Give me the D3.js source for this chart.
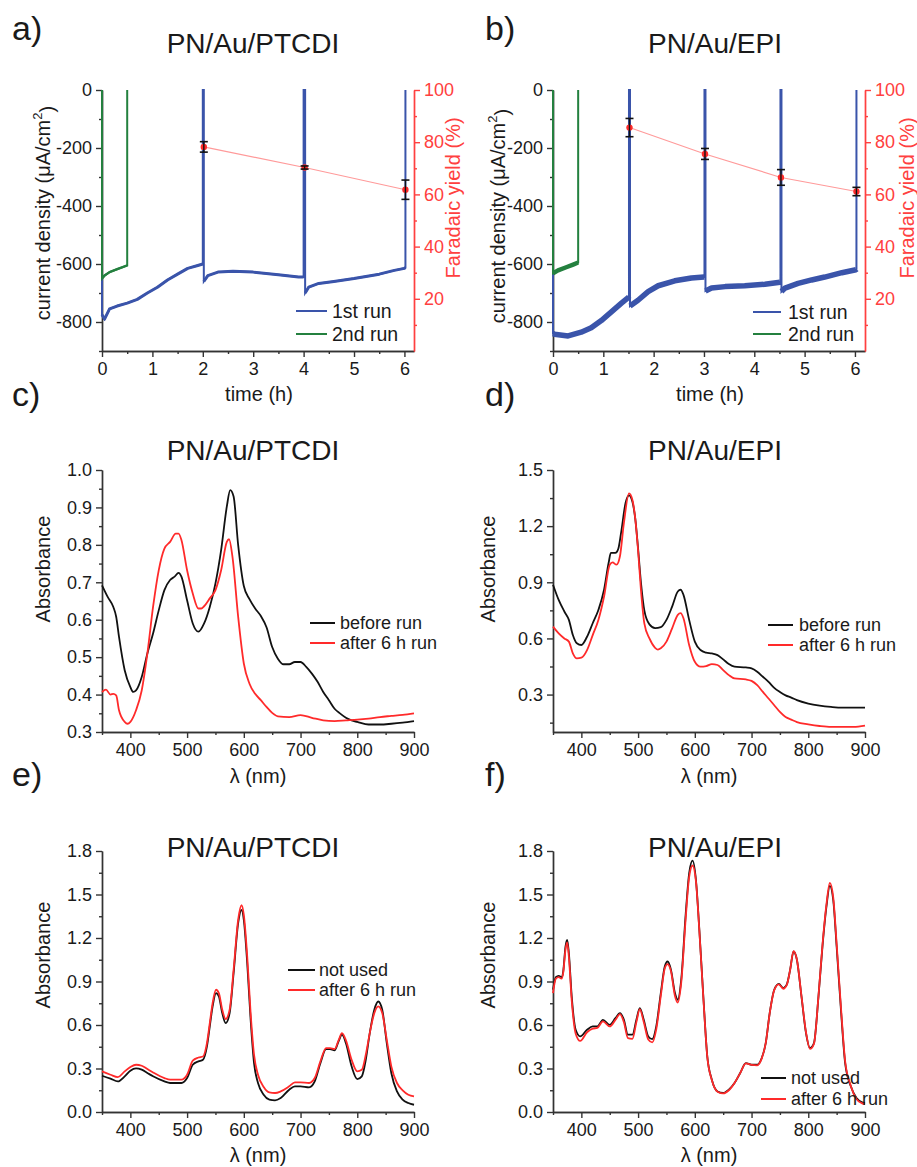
<!DOCTYPE html>
<html>
<head>
<meta charset="utf-8">
<script src="https://cdn.jsdelivr.net/npm/d3@7"></script>
<style>
  body { margin: 0; background: #fff; }
  svg text { font-family: "Liberation Sans", Arial, Helvetica, sans-serif; }
</style>
</head>
<body>
<svg id="fig" width="917" height="1167"></svg>
<script>
// ---- a) PN/Au/PTCDI chronoamperometry ----
const timeA1 = [0,0,0.05,0.15,0.3,0.5,0.7,0.9,1.1,1.3,1.5,1.7,1.9,2.0,2.0,2.02,2.02,2.1,2.3,2.6,3.0,3.5,3.9,4.0,4.0,4.03,4.03,4.1,4.3,4.6,5.0,5.5,5.8,6.0,6.02,6.02];
const jA1 = [0,-775,-790,-755,-745,-735,-722,-700,-680,-655,-635,-615,-605,-600,0,0,-660,-640,-628,-625,-628,-637,-645,-645,0,0,-700,-680,-667,-660,-650,-635,-622,-615,-612,0];
const timeA2 = [0,0,0.05,0.15,0.3,0.45,0.5,0.5];
const jA2 = [0,-650,-640,-628,-618,-608,-605,0];
const fyTimeA = [2.02, 4.02, 6.02];
const fyA = [78.2, 70.3, 61.8];
const fyErrA = [2.0, 0.6, 3.7];

// ---- b) PN/Au/EPI chronoamperometry ----
const timeB1 = [0,0,0.03,0.3,0.56,0.76,0.96,1.16,1.36,1.5,1.51,1.51,1.53,1.53,1.69,1.89,2.09,2.42,2.75,3.0,3.01,3.01,3.03,3.03,3.15,3.42,3.81,4.21,4.51,4.52,4.52,4.54,4.54,4.61,4.87,5.14,5.4,5.74,6.02,6.03,6.03];
const jB1 = [0,-840,-842,-848,-835,-820,-795,-765,-735,-715,-712,0,0,-745,-725,-695,-675,-658,-648,-645,-645,0,0,-693,-683,-678,-675,-670,-663,-662,0,0,-695,-683,-667,-655,-645,-630,-620,-618,0];
const timeB2 = [0,0,0.1,0.25,0.4,0.5,0.5];
const jB2 = [0,-632,-622,-612,-602,-595,0];
const fyTimeB = [1.52, 3.02, 4.53, 6.03];
const fyB = [85.6, 75.5, 66.5, 61.1];
const fyErrB = [3.5, 2.1, 3.0, 1.6];

// ---- c) PTCDI absorbance before / after ----
const wlBeforeC = [350,360,370,375,380,390,400,405,410,420,430,440,450,460,470,478,485,490,500,510,520,530,540,550,560,570,576,582,590,600,610,620,630,640,650,660,670,680,690,700,710,720,730,740,750,760,770,780,790,800,820,840,860,880,900];
const absBeforeC = [0.692,0.661,0.634,0.608,0.554,0.465,0.42,0.407,0.411,0.447,0.51,0.563,0.625,0.679,0.706,0.715,0.725,0.715,0.652,0.59,0.568,0.59,0.634,0.697,0.786,0.902,0.946,0.929,0.80,0.69,0.655,0.63,0.61,0.58,0.527,0.496,0.481,0.481,0.487,0.487,0.474,0.456,0.434,0.407,0.385,0.362,0.349,0.338,0.331,0.327,0.320,0.320,0.322,0.325,0.329];
const wlAfterC = [350,357,365,370,375,380,390,395,400,410,420,430,440,450,460,470,480,485,490,500,510,520,525,530,540,550,560,570,574,580,590,600,610,620,630,640,650,660,680,700,720,740,760,780,800,820,840,860,880,900];
const absAfterC = [0.407,0.413,0.40,0.402,0.398,0.358,0.327,0.322,0.327,0.358,0.411,0.51,0.634,0.732,0.79,0.808,0.83,0.83,0.813,0.732,0.67,0.63,0.63,0.636,0.657,0.679,0.732,0.808,0.815,0.768,0.608,0.483,0.429,0.402,0.385,0.367,0.351,0.342,0.34,0.345,0.338,0.331,0.329,0.331,0.333,0.336,0.34,0.343,0.346,0.35];

// ---- d) EPI absorbance before / after ----
const wlBeforeD = [350,360,370,378,385,392,400,410,420,430,440,448,452,460,465,470,478,484,490,495,500,505,511,520,530,540,550,560,570,575,580,590,600,610,620,630,640,650,660,670,690,700,710,720,730,740,750,760,770,780,800,820,840,860,900];
const absBeforeD = [0.887,0.806,0.744,0.699,0.618,0.574,0.565,0.609,0.681,0.752,0.86,1.003,1.057,1.057,1.078,1.164,1.325,1.364,1.33,1.24,1.08,0.90,0.75,0.675,0.655,0.66,0.699,0.77,0.851,0.86,0.833,0.699,0.583,0.538,0.524,0.52,0.511,0.488,0.463,0.449,0.445,0.44,0.422,0.395,0.368,0.336,0.314,0.296,0.284,0.27,0.252,0.241,0.234,0.23,0.23];
const wlAfterD = [350,360,370,378,385,392,400,410,420,430,440,450,455,462,468,475,484,490,495,500,505,511,520,530,535,540,550,560,570,575,580,590,600,610,620,630,640,650,660,670,690,700,710,720,730,740,750,760,770,780,800,820,840,860,880,900];
const absAfterD = [0.663,0.627,0.6,0.583,0.52,0.493,0.497,0.538,0.618,0.699,0.824,0.994,1.006,0.994,1.039,1.217,1.375,1.34,1.24,1.07,0.86,0.68,0.60,0.55,0.54,0.547,0.583,0.654,0.726,0.735,0.708,0.565,0.475,0.449,0.452,0.463,0.458,0.431,0.404,0.386,0.381,0.373,0.35,0.314,0.279,0.243,0.207,0.18,0.166,0.153,0.141,0.132,0.127,0.127,0.127,0.134];

// ---- e) PTCDI absorbance not used / after ----
const wlE = [350,365,378,390,400,410,420,430,440,460,470,490,500,510,520,528,535,540,545,551,556,562,568,575,582,590,596,600,606,612,618,625,635,645,655,665,680,690,700,715,725,735,745,752,760,767,773,780,790,800,808,815,822,830,837,844,852,860,870,880,890,900];
const absNotUsedE = [0.25,0.23,0.211,0.246,0.285,0.301,0.292,0.269,0.246,0.211,0.2,0.2,0.234,0.326,0.349,0.36,0.452,0.59,0.728,0.82,0.797,0.682,0.613,0.682,0.957,1.302,1.393,1.325,1.026,0.636,0.337,0.2,0.119,0.085,0.08,0.096,0.154,0.177,0.177,0.17,0.211,0.337,0.434,0.434,0.425,0.487,0.533,0.475,0.315,0.227,0.246,0.36,0.544,0.705,0.762,0.705,0.475,0.269,0.142,0.085,0.062,0.05];
const absAfterE = [0.28,0.257,0.241,0.28,0.31,0.326,0.319,0.296,0.273,0.234,0.223,0.223,0.257,0.354,0.376,0.383,0.475,0.613,0.751,0.843,0.82,0.705,0.641,0.705,0.98,1.325,1.426,1.359,1.072,0.682,0.395,0.257,0.172,0.135,0.131,0.142,0.177,0.204,0.204,0.2,0.234,0.349,0.441,0.441,0.434,0.494,0.544,0.494,0.36,0.28,0.291,0.395,0.544,0.682,0.728,0.682,0.498,0.315,0.2,0.149,0.119,0.108];

// ---- f) EPI absorbance not used / after ----
const wlF = [350,355,360,365,368,372,375,378,383,390,398,410,420,428,438,450,460,468,475,482,490,497,503,510,518,525,532,540,547,552,558,565,570,576,584,590,596,602,608,615,622,630,640,650,660,670,680,690,700,710,718,725,732,740,748,756,762,768,774,780,788,796,803,810,818,825,832,838,844,850,858,865,875,885,895,900];
const absNotUsedF = [0.843,0.93,0.939,0.93,0.969,1.141,1.187,1.095,0.797,0.567,0.521,0.567,0.59,0.59,0.636,0.601,0.647,0.682,0.636,0.533,0.533,0.636,0.716,0.636,0.521,0.503,0.59,0.82,1.003,1.038,0.98,0.82,0.774,0.911,1.37,1.646,1.733,1.6,1.256,0.797,0.383,0.223,0.142,0.131,0.154,0.2,0.269,0.337,0.326,0.326,0.372,0.475,0.682,0.843,0.884,0.855,0.878,0.98,1.107,1.049,0.797,0.544,0.441,0.475,0.797,1.141,1.416,1.559,1.462,1.141,0.682,0.337,0.177,0.096,0.067,0.062];
const absAfterF = [0.82,0.92,0.93,0.92,0.96,1.12,1.17,1.07,0.77,0.54,0.49,0.55,0.575,0.58,0.625,0.59,0.635,0.675,0.62,0.51,0.505,0.62,0.71,0.62,0.5,0.48,0.57,0.80,0.99,1.02,0.97,0.80,0.755,0.89,1.34,1.62,1.70,1.59,1.25,0.79,0.38,0.22,0.14,0.128,0.15,0.2,0.268,0.335,0.325,0.322,0.37,0.475,0.68,0.84,0.88,0.85,0.875,0.98,1.11,1.05,0.80,0.55,0.435,0.47,0.80,1.15,1.43,1.58,1.48,1.16,0.70,0.35,0.18,0.09,0.06,0.055];

// ---- ticks ----
const timeTicks = [0,1,2,3,4,5,6];
const timeMinor = [0.5,1.5,2.5,3.5,4.5,5.5];
const jTicks = [0,-200,-400,-600,-800];
const jMinor = [-100,-300,-500,-700,-900];
const fyTicks = [20,40,60,80,100];
const fyMinor = [10,30,50,70,90];
const wlTicks = [400,500,600,700,800,900];
const wlMinor = [350,450,550,650,750,850];

const blue = "#3a54aa", green = "#24803f", red = "#ff2a2a", axisRed = "#ff4040";
const ink = "#1a1a1a";
const svg = d3.select("#fig");

function addText(x, y, s, size, opts) {
  opts = opts || {};
  const t = svg.append("text")
    .attr("x", x).attr("y", y)
    .attr("font-size", size)
    .attr("fill", opts.color || ink)
    .attr("text-anchor", opts.anchor || "start")
    .text(s);
  if (opts.rotate) {
    t.attr("x", 0).attr("y", 0).attr("dy", "0.35em")
      .attr("transform", `translate(${x},${y}) rotate(-90)`);
  }
  return t;
}

// builds scales + left/bottom axes for one panel
function makePanel(p) {
  const x = d3.scaleLinear().domain(p.xDomain).range([p.left, p.right]);
  const y = d3.scaleLinear().domain(p.yDomain).range([p.bottom, p.top]);
  const g = svg.append("g");

  const ax = g.append("g").attr("class", "ax");
  ax.append("g").attr("transform", `translate(0,${p.bottom})`)
    .call(d3.axisBottom(x).tickValues(p.xMinor).tickSize(3).tickSizeOuter(0).tickFormat(""));
  ax.append("g").attr("transform", `translate(0,${p.bottom})`)
    .call(d3.axisBottom(x).tickValues(p.xMajor).tickSize(6).tickSizeOuter(0).tickPadding(5).tickFormat(d => String(d)));
  ax.append("g").attr("transform", `translate(${p.left},0)`)
    .call(d3.axisLeft(y).tickValues(p.yMinor).tickSize(3).tickSizeOuter(0).tickFormat(""));
  ax.append("g").attr("transform", `translate(${p.left},0)`)
    .call(d3.axisLeft(y).tickValues(p.yMajor).tickSize(6).tickSizeOuter(0).tickPadding(4).tickFormat(p.yFmt));

  ax.selectAll("path, line").attr("stroke", "#333").attr("stroke-width", 1.4);
  ax.selectAll("text").attr("font-size", 18).attr("fill", ink)
    .attr("font-family", '"Liberation Sans", Arial, sans-serif');
  return { x, y, g };
}

function rightAxis(pan, p) {
  const yR = d3.scaleLinear().domain([0, 100]).range([p.bottom, p.top]);
  const ax = pan.g.append("g");
  ax.append("g").attr("transform", `translate(${p.right},0)`)
    .call(d3.axisRight(yR).tickValues(fyMinor).tickSize(3).tickSizeOuter(0).tickFormat(""));
  ax.append("g").attr("transform", `translate(${p.right},0)`)
    .call(d3.axisRight(yR).tickValues(fyTicks).tickSize(6).tickSizeOuter(0).tickPadding(4).tickFormat(d => String(d)));
  ax.selectAll("path, line").attr("stroke", axisRed).attr("stroke-width", 1.4);
  ax.selectAll("text").attr("font-size", 18).attr("fill", axisRed)
    .attr("font-family", '"Liberation Sans", Arial, sans-serif');
  return yR;
}

function legend(x1, x2, xt, ys, labels, colors, size) {
  labels.forEach((lab, i) => {
    svg.append("line").attr("x1", x1).attr("x2", x2).attr("y1", ys[i]).attr("y2", ys[i])
      .attr("stroke", colors[i]).attr("stroke-width", 2);
    svg.append("text").attr("x", xt).attr("y", ys[i]).attr("dy", "0.35em")
      .attr("font-size", size).attr("fill", ink).text(lab);
  });
}

function currentDensityLabel(x, y) {
  const t = svg.append("text").attr("transform", `translate(${x},${y}) rotate(-90)`)
    .attr("dy", "0.35em").attr("text-anchor", "middle").attr("font-size", 20).attr("fill", ink);
  t.append("tspan").text("current density (\u03bcA/cm");
  t.append("tspan").attr("font-size", 13).attr("dy", "-0.6em").text("2");
  t.append("tspan").attr("dy", "0.6em").text(")");
}

// chronoamperometry panel (a, b)
function runPanel(p, t1, j1, t2, j2, fyT, fy, fyErr, band) {
  const pan = makePanel(p);
  const { x, y, g } = pan;
  const pts1 = t1.map((t, i) => [t, j1[i]]);
  const pts2 = t2.map((t, i) => [t, j2[i]]);
  const line = d3.line().x(d => x(d[0])).y(d => y(d[1]));
  const bandLine = d3.line().defined(d => d[1] < 0).x(d => x(d[0])).y(d => y(d[1]));

  g.append("path").attr("d", line(pts1)).attr("fill", "none").attr("stroke", blue).attr("stroke-width", 2);
  g.append("path").attr("d", bandLine(pts1)).attr("fill", "none").attr("stroke", blue)
    .attr("stroke-width", band).attr("stroke-linejoin", "round");
  g.append("path").attr("d", line(pts2)).attr("fill", "none").attr("stroke", green).attr("stroke-width", 2);
  g.append("path").attr("d", bandLine(pts2)).attr("fill", "none").attr("stroke", green)
    .attr("stroke-width", band * 0.8).attr("stroke-linejoin", "round");

  const yR = rightAxis(pan, p);
  const fyPts = fyT.map((t, i) => [t, fy[i], fyErr[i]]);
  g.append("path").attr("d", d3.line().x(d => x(d[0])).y(d => yR(d[1]))(fyPts))
    .attr("fill", "none").attr("stroke", "#ff9a9a").attr("stroke-width", 1.1);
  fyPts.forEach(d => {
    const cx = x(d[0]);
    g.append("circle").attr("cx", cx).attr("cy", yR(d[1])).attr("r", 3.2).attr("fill", red);
    const yTop = yR(d[1] + d[2]), yBot = yR(d[1] - d[2]);
    g.append("line").attr("x1", cx).attr("x2", cx).attr("y1", yTop).attr("y2", yBot)
      .attr("stroke", "#111").attr("stroke-width", 1.4);
    [yTop, yBot].forEach(yy => g.append("line").attr("x1", cx - 4).attr("x2", cx + 4)
      .attr("y1", yy).attr("y2", yy).attr("stroke", "#111").attr("stroke-width", 1.6));
  });
  return pan;
}

// absorbance panel (c - f)
function specPanel(p, wl1, a1, wl2, a2) {
  const pan = makePanel(p);
  const { x, y, g } = pan;
  const line = d3.line().curve(d3.curveMonotoneX).x(d => x(d[0])).y(d => y(d[1]));
  g.append("path").attr("d", line(wl1.map((w, i) => [w, a1[i]])))
    .attr("fill", "none").attr("stroke", "#111").attr("stroke-width", 1.8);
  g.append("path").attr("d", line(wl2.map((w, i) => [w, a2[i]])))
    .attr("fill", "none").attr("stroke", red).attr("stroke-width", 1.8);
  return pan;
}

const fmtJ = d => String(d);
const fmt1 = d3.format(".1f");

// ---- a ----
const pa = { left: 102, right: 414, top: 90, bottom: 351, xDomain: [0, 6.19], yDomain: [-900, 0],
  xMajor: timeTicks, xMinor: timeMinor, yMajor: jTicks, yMinor: jMinor, yFmt: fmtJ };
runPanel(pa, timeA1, jA1, timeA2, jA2, fyTimeA, fyA, fyErrA, 3);
addText(12, 40, "a)", 34);
addText(253, 53, "PN/Au/PTCDI", 28, { anchor: "middle" });
currentDensityLabel(43, 213);
addText(453, 198, "Faradaic yield (%)", 20, { anchor: "middle", color: axisRed, rotate: true });
addText(259, 401, "time (h)", 20, { anchor: "middle" });
legend(296, 327, 332, [311, 334], ["1st run", "2nd run"], [blue, green], 19.5);

// ---- b ----
const pb = { left: 553, right: 865, top: 90, bottom: 351, xDomain: [0, 6.2], yDomain: [-900, 0],
  xMajor: timeTicks, xMinor: timeMinor, yMajor: jTicks, yMinor: jMinor, yFmt: fmtJ };
runPanel(pb, timeB1, jB1, timeB2, jB2, fyTimeB, fyB, fyErrB, 5.5);
addText(485, 40, "b)", 34);
addText(715, 53, "PN/Au/EPI", 28, { anchor: "middle" });
currentDensityLabel(498, 216);
addText(907, 198, "Faradaic yield (%)", 20, { anchor: "middle", color: axisRed, rotate: true });
addText(710, 401, "time (h)", 20, { anchor: "middle" });
legend(753, 781, 788, [312, 334], ["1st run", "2nd run"], [blue, green], 19.5);

// ---- c ----
const pc = { left: 102, right: 414, top: 470, bottom: 732, xDomain: [350, 900], yDomain: [0.3, 1.0],
  xMajor: wlTicks, xMinor: wlMinor, yMajor: [0.3,0.4,0.5,0.6,0.7,0.8,0.9,1.0],
  yMinor: [0.35,0.45,0.55,0.65,0.75,0.85,0.95], yFmt: fmt1 };
specPanel(pc, wlBeforeC, absBeforeC, wlAfterC, absAfterC);
addText(12, 406, "c)", 34);
addText(253, 460, "PN/Au/PTCDI", 28, { anchor: "middle" });
addText(43, 569, "Absorbance", 20, { anchor: "middle", rotate: true });
addText(258, 783, "\u03bb (nm)", 20, { anchor: "middle" });
legend(310, 335, 340, [623, 643], ["before run", "after 6 h run"], ["#111", red], 18);

// ---- d ----
const pd = { left: 553, right: 865, top: 470, bottom: 732, xDomain: [350, 900], yDomain: [0.1, 1.5],
  xMajor: wlTicks, xMinor: wlMinor, yMajor: [0.3,0.6,0.9,1.2,1.5],
  yMinor: [0.15,0.45,0.75,1.05,1.35], yFmt: fmt1 };
specPanel(pd, wlBeforeD, absBeforeD, wlAfterD, absAfterD);
addText(485, 406, "d)", 34);
addText(715, 460, "PN/Au/EPI", 28, { anchor: "middle" });
addText(488, 569, "Absorbance", 20, { anchor: "middle", rotate: true });
addText(709, 783, "\u03bb (nm)", 20, { anchor: "middle" });
legend(768, 793, 799, [625, 645], ["before run", "after 6 h run"], ["#111", red], 18);

// ---- e ----
const pe = { left: 102, right: 414, top: 851, bottom: 1112, xDomain: [350, 900], yDomain: [0, 1.8],
  xMajor: wlTicks, xMinor: wlMinor, yMajor: [0,0.3,0.6,0.9,1.2,1.5,1.8],
  yMinor: [0.15,0.45,0.75,1.05,1.35,1.65], yFmt: fmt1 };
specPanel(pe, wlE, absNotUsedE, wlE, absAfterE);
addText(12, 786, "e)", 34);
addText(253, 857, "PN/Au/PTCDI", 28, { anchor: "middle" });
addText(43, 955, "Absorbance", 20, { anchor: "middle", rotate: true });
addText(258, 1162, "\u03bb (nm)", 20, { anchor: "middle" });
legend(288, 315, 319, [970, 990], ["not used", "after 6 h run"], ["#111", red], 18);

// ---- f ----
const pf = { left: 553, right: 865, top: 851, bottom: 1112, xDomain: [350, 900], yDomain: [0, 1.8],
  xMajor: wlTicks, xMinor: wlMinor, yMajor: [0,0.3,0.6,0.9,1.2,1.5,1.8],
  yMinor: [0.15,0.45,0.75,1.05,1.35,1.65], yFmt: fmt1 };
specPanel(pf, wlF, absNotUsedF, wlF, absAfterF);
addText(485, 786, "f)", 34);
addText(715, 857, "PN/Au/EPI", 28, { anchor: "middle" });
addText(488, 955, "Absorbance", 20, { anchor: "middle", rotate: true });
addText(709, 1162, "\u03bb (nm)", 20, { anchor: "middle" });
legend(761, 786, 791, [1078, 1099], ["not used", "after 6 h run"], ["#111", red], 18);
</script>
</body>
</html>
